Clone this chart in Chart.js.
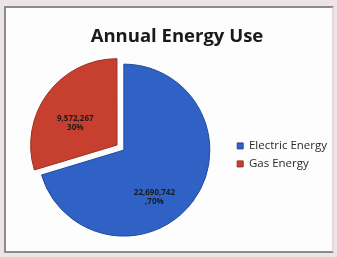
<!DOCTYPE html>
<html>
<head>
<meta charset="utf-8">
<script src="https://cdn.jsdelivr.net/npm/chart.js@4.4.1/dist/chart.umd.min.js"></script>
<style>
  html, body { margin: 0; padding: 0; background: #ece4e6; }
  #frame {
    position: absolute; left: 4px; top: 6px; width: 326px; height: 243px;
    background: #fdfdfd; border: 2px solid #8d8a8c; border-right-color: #e9d6da;
  }
  #wrap { position: absolute; left: 0; top: 0; width: 337px; height: 257px; }
</style>
</head>
<body>
<div id="frame"></div>
<div id="wrap"><canvas id="energyChart" width="337" height="257"></canvas></div>
<script>
// Datos del gráfico
const categories = ['Electric Energy', 'Gas Energy'];
const energyValues = [22690742, 9572267];
const percentLabels = [',70%', '30%'];

const sliceColors = ['#2f62c4', '#c7402f'];
const sliceBorders = ['#234b9a', '#9a2f22'];

// Etiquetas dentro de cada porción (sin plugin externo)
const sliceLabels = {
    id: 'sliceLabels',
    afterDatasetsDraw(chart) {
        const ctx = chart.ctx;
        const arcs = chart.getDatasetMeta(0).data;
        // posición angular (fracción) y radial de cada etiqueta
        const place = [[0.58, 0.65], [0.42, 0.55]];
        ctx.save();
        ctx.fillStyle = '#1e1a1a';
        ctx.textAlign = 'center';
        ctx.textBaseline = 'middle';
        ctx.font = 'bold 8px "Open Sans", sans-serif';
        arcs.forEach((arc, i) => {
            const p = arc.getProps(['x', 'y', 'startAngle', 'endAngle', 'outerRadius']);
            const a = p.startAngle + (p.endAngle - p.startAngle) * place[i][0];
            const off = (arc.options.offset || 0) / 4;  // Chart.js v4 desplaza offset/4
            const mid = (p.startAngle + p.endAngle) / 2;
            const cx = p.x + Math.cos(mid) * off;
            const cy = p.y + Math.sin(mid) * off;
            const r = p.outerRadius * place[i][1];
            const x = cx + Math.cos(a) * r;
            const y = cy + Math.sin(a) * r;
            ctx.fillText(energyValues[i].toLocaleString('en-US'), x, y - 4.5);
            ctx.fillText(percentLabels[i], x, y + 4.5);
        });
        ctx.restore();
    }
};

const ctx = document.getElementById('energyChart').getContext('2d');
new Chart(ctx, {
    type: 'pie',
    data: {
        labels: categories,
        datasets: [{
            data: energyValues,
            backgroundColor: sliceColors,
            borderColor: sliceBorders,
            borderWidth: 1,
            offset: [0, 34],
            radius: 86
        }]
    },
    options: {
        responsive: false,
        animation: false,
        layout: { padding: { left: 17, right: 0, top: 0, bottom: 9 } },
        plugins: {
            title: {
                display: true,
                text: 'Annual Energy Use',
                color: '#1a1a1a',
                font: { family: '"Open Sans", sans-serif', size: 18.5, weight: 'bold' },
                padding: { top: 26, bottom: 4 }
            },
            legend: {
                position: 'right',
                fullSize: false,
                title: {
                    display: true,
                    text: '',
                    font: { size: 8 },
                    padding: 0
                },
                labels: {
                    boxWidth: 6,
                    boxHeight: 6,
                    padding: 6.5,
                    color: '#2a2a2a',
                    font: { family: '"Open Sans", sans-serif', size: 11.5 }
                }
            },
            tooltip: { enabled: false }
        }
    },
    plugins: [sliceLabels]
});
</script>
</body>
</html>
